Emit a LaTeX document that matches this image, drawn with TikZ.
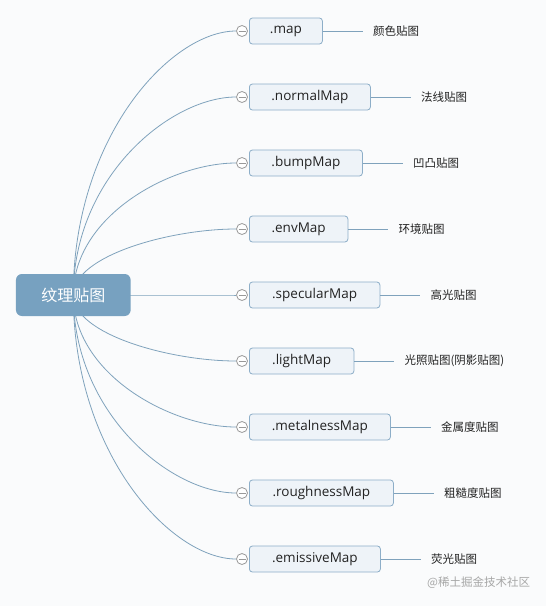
\documentclass[tikz,border=0pt]{standalone}
\usepackage{fontspec}
\setmainfont{Open Sans}
\newfontfamily\cjk{Noto Sans CJK SC}
\usetikzlibrary{calc,backgrounds}
\definecolor{bgc}{HTML}{FAFBFC}
\definecolor{linec}{HTML}{7FA2BC}
\definecolor{boxfill}{HTML}{EEF3F8}
\definecolor{boxdraw}{HTML}{8DAEC8}
\definecolor{rootc}{HTML}{77A1C0}
\definecolor{circc}{HTML}{999999}
\definecolor{txtc}{HTML}{222222}
\tikzset{
  conn/.style={draw=linec, line width=0.8pt},
  rootbox/.style={fill=rootc, rounded corners=6pt, minimum width=114.7pt, minimum height=42pt,
    text=white, font=\cjk\fontsize{16}{18}\selectfont, inner sep=0pt},
  childbox/.style={draw=boxdraw, fill=boxfill, rounded corners=3pt, minimum height=26pt,
    inner sep=0pt, line width=0.8pt, text=txtc, font=\fontsize{13.5}{16}\selectfont, anchor=west},
  labnode/.style={anchor=west, inner xsep=10pt, inner ysep=0pt, text=txtc, font=\cjk\fontsize{11.5}{13}\selectfont},
  circnode/.style={circle, draw=circc, fill=white, minimum size=11pt, inner sep=0pt, line width=0.8pt,
    path picture={\draw[circc, line width=0.8pt] ([xshift=2pt]path picture bounding box.west) -- ([xshift=-2pt]path picture bounding box.east);}},
  wmark/.style={anchor=west, inner sep=0pt, text=black!35, font=\cjk\fontsize{11.5}{13}\selectfont}
}
\begin{document}
\begin{tikzpicture}[x=1pt,y=-1pt]
\useasboundingbox (0,0) rectangle (546,606);
\node[rootbox] (root) at (73.3,295) {纹理贴图};
\foreach \i/\t/\w/\l in {1/.map/73/颜色贴图, 2/.normalMap/121/法线贴图, 3/.bumpMap/113/凹凸贴图,
  4/.envMap/98.5/环境贴图, 5/.specularMap/130.5/高光贴图, 6/.lightMap/104.5/光照贴图(阴影贴图),
  7/.metalnessMap/141/金属度贴图, 8/.roughnessMap/144/粗糙度贴图, 9/.emissiveMap/131/荧光贴图}{
  \pgfmathsetmacro\yy{31+66*(\i-1)}
  \node[circnode] (c\i) at (242,\yy) {};
  \node[childbox, minimum width=\w pt] (b\i) at (249,\yy) {\t};
  \node[labnode] (l\i) at ($(b\i.east)+(40,0)$) {\l};
  \draw[conn] (b\i) -- (l\i);
}
\node[wmark] (wm) at (427,583) {@稀土掘金技术社区};
\begin{scope}[on background layer]
  \fill[bgc] (0,0) rectangle (546,606);
  \foreach \i in {1,...,9}{
    \draw[conn] (root.center) .. controls ($(root.center)!0.6!(root.center |- c\i.west)$)
      and ($(c\i.west)!0.4!(c\i.west -| root.center)$) .. (c\i.west);
  }
\end{scope}
\end{tikzpicture}
\end{document}
